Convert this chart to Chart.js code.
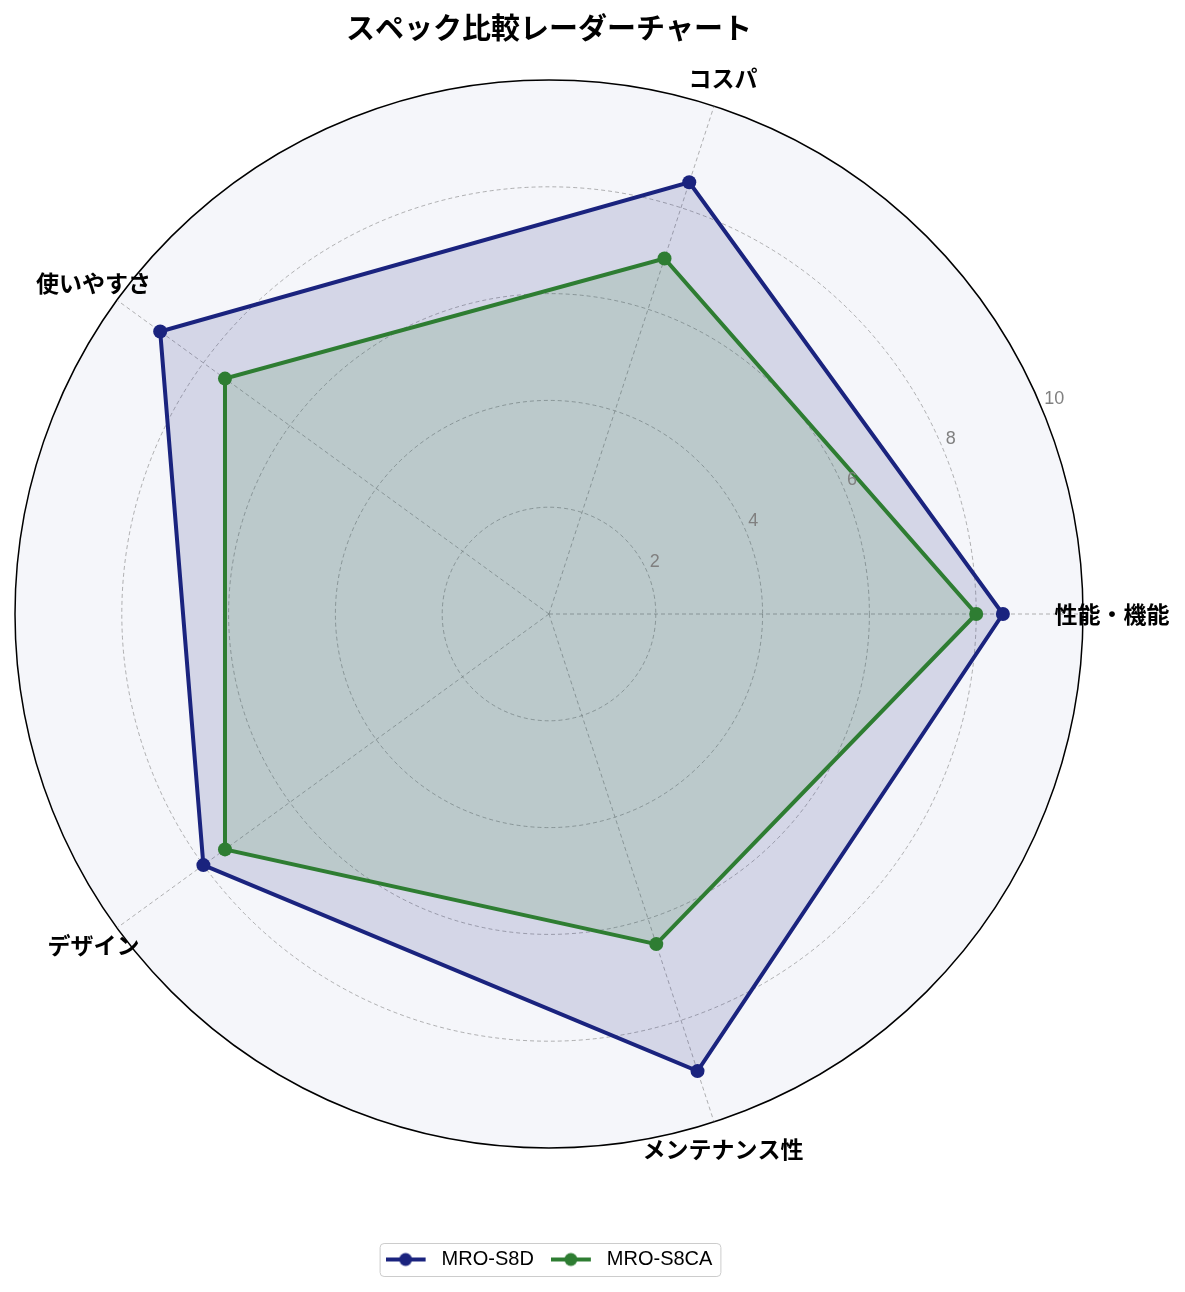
<!DOCTYPE html>
<html lang="ja">
<head>
<meta charset="utf-8">
<title>スペック比較レーダーチャート</title>
<script src="https://cdn.jsdelivr.net/npm/chart.js@4.4.1/dist/chart.umd.min.js"></script>
<style>
  html, body { margin: 0; padding: 0; background: #fff; }
  #wrap { position: relative; width: 1185px; height: 1292px; }
</style>
</head>
<body>
<div id="wrap"><canvas id="radar"></canvas></div>
<script>
(() => {
  // axes in the order they go round the picture (counter-clockwise from the right)
  const categories = ['性能・機能', 'コスパ', '使いやすさ', 'デザイン', 'メンテナンス性'];
  const seriesNames = ['MRO-S8D', 'MRO-S8CA'];
  const valuesS8D = [8.5, 8.5, 9.0, 8.0, 9.0];
  const valuesS8CA = [8.0, 7.0, 7.5, 7.5, 6.5];
  const radialTicks = [0, 2, 4, 6, 8, 10];

  const COLORS = ['#1a237e', '#2e7d32'];
  const FILLS = ['rgba(26, 35, 126, 0.15)', 'rgba(46, 125, 50, 0.15)'];
  const JP = '"Noto Sans CJK JP", sans-serif';
  const LAT = '"Liberation Sans", "Noto Sans CJK JP", sans-serif';
  const R_LABEL_ANGLE = -22.5 * Math.PI / 180;

  // Chart.js walks clockwise, so keep the first axis and flip the rest
  const clockwise = (arr) => [arr[0], ...arr.slice(1).reverse()];

  /* ============================================
     LEGEND MARKERS (line + dot, like matplotlib)
     ============================================ */
  function makeMarker(color) {
    const c = document.createElement('canvas');
    c.width = 46;
    c.height = 20;
    const g = c.getContext('2d');
    g.strokeStyle = color;
    g.lineWidth = 4;
    g.beginPath();
    g.moveTo(0, 10);
    g.lineTo(40, 10);
    g.stroke();
    g.fillStyle = color;
    g.beginPath();
    g.arc(20, 10, 6.5, 0, Math.PI * 2);
    g.fill();
    return c;
  }
  const markers = COLORS.map(makeMarker);

  /* ============================================
     PLUGINS
     ============================================ */
  const polarBackground = {
    id: 'polarBackground',
    beforeDraw(chart) {
      const s = chart.scales.r;
      const ctx = chart.ctx;
      ctx.save();
      ctx.beginPath();
      ctx.arc(s.xCenter, s.yCenter, s.drawingArea, 0, Math.PI * 2);
      ctx.fillStyle = '#f5f6fa';
      ctx.fill();
      ctx.restore();
    }
  };

  const radialLabels = {
    id: 'radialLabels',
    afterDatasetsDraw(chart) {
      const s = chart.scales.r;
      const ctx = chart.ctx;
      ctx.save();
      ctx.font = '18px ' + LAT;
      ctx.fillStyle = '#808080';
      ctx.textAlign = 'left';
      ctx.textBaseline = 'middle';
      s.ticks.forEach((t) => {
        if (t.value === 0) return;
        const d = s.getDistanceFromCenterForValue(t.value);
        ctx.fillText(String(t.value),
          s.xCenter + d * Math.cos(R_LABEL_ANGLE) + 2,
          s.yCenter + d * Math.sin(R_LABEL_ANGLE) - 11);
      });
      ctx.restore();
    }
  };

  const axisTitles = {
    id: 'axisTitles',
    afterDraw(chart) {
      const s = chart.scales.r;
      const ctx = chart.ctx;
      ctx.save();
      ctx.font = 'bold 23px ' + JP;
      ctx.fillStyle = '#000';
      ctx.textAlign = 'center';
      ctx.textBaseline = 'middle';
      chart.data.labels.forEach((lab, i) => {
        const p = s.getPointPosition(i, s.drawingArea + 29);
        ctx.fillText(lab, p.x, p.y);
      });

      // frame round the legend
      const boxes = chart.legend.legendHitBoxes;
      if (boxes && boxes.length) {
        const first = boxes[0];
        const last = boxes[boxes.length - 1];
        const x0 = first.left - 6;
        const y0 = first.top - 6.5;
        const x1 = last.left + last.width + 8;
        const y1 = first.top + first.height + 6.5;
        ctx.strokeStyle = '#cccccc';
        ctx.lineWidth = 1;
        ctx.beginPath();
        ctx.roundRect(x0 + 0.5, y0 + 0.5, x1 - x0, y1 - y0, 4);
        ctx.stroke();
      }
      ctx.restore();
    }
  };

  /* ============================================
     CHART
     ============================================ */
  const isOuter = (ctx) => ctx.tick && ctx.tick.value === radialTicks[radialTicks.length - 1];

  const datasets = [valuesS8D, valuesS8CA].map((vals, i) => ({
    label: seriesNames[i],
    data: clockwise(vals),
    borderColor: COLORS[i],
    backgroundColor: FILLS[i],
    borderWidth: 4,
    pointRadius: 7,
    pointBorderWidth: 0,
    pointBackgroundColor: COLORS[i],
    pointBorderColor: COLORS[i],
    fill: true,
    tension: 0,
    order: 2 - i
  }));

  new Chart(document.getElementById('radar'), {
    type: 'radar',
    data: { labels: clockwise(categories), datasets: datasets },
    plugins: [polarBackground, radialLabels, axisTitles],
    options: {
      responsive: true,
      maintainAspectRatio: false,
      animation: false,
      events: [],
      // polar area sits left of the page centre, labels hang out on the right
      layout: { padding: { left: 15, right: 102, top: 0, bottom: 12.5 } },
      scales: {
        r: {
          min: radialTicks[0],
          max: radialTicks[radialTicks.length - 1],
          startAngle: 90,
          ticks: { stepSize: 2, display: false },
          pointLabels: { display: false },
          grid: {
            circular: true,
            color: (ctx) => isOuter(ctx) ? '#000000' : 'rgba(128, 128, 128, 0.6)',
            lineWidth: (ctx) => isOuter(ctx) ? 1.5 : 1
          },
          border: { dash: (ctx) => isOuter(ctx) ? [] : [4, 3] },
          angleLines: { color: 'rgba(128, 128, 128, 0.6)', lineWidth: 1, borderDash: [4, 3] }
        }
      },
      plugins: {
        tooltip: { enabled: false },
        title: {
          display: true,
          text: 'スペック比較レーダーチャート',
          color: '#000',
          font: { family: JP, size: 29, weight: 'bold' },
          padding: { top: 11, bottom: 34.2 }
        },
        legend: {
          position: 'bottom',
          title: { display: true, text: ' ', font: { size: 10 }, padding: { top: 72.5, bottom: 0 } },
          labels: {
            usePointStyle: true,
            pointStyleWidth: 46,
            padding: 17,
            color: '#000',
            font: { family: LAT, size: 20 },
            sort: (a, b) => a.datasetIndex - b.datasetIndex,
            generateLabels: (chart) => Chart.defaults.plugins.legend.labels.generateLabels(chart)
              .map((l) => Object.assign(l, { pointStyle: markers[l.datasetIndex] }))
          }
        }
      }
    }
  });
})();
</script>
</body>
</html>
